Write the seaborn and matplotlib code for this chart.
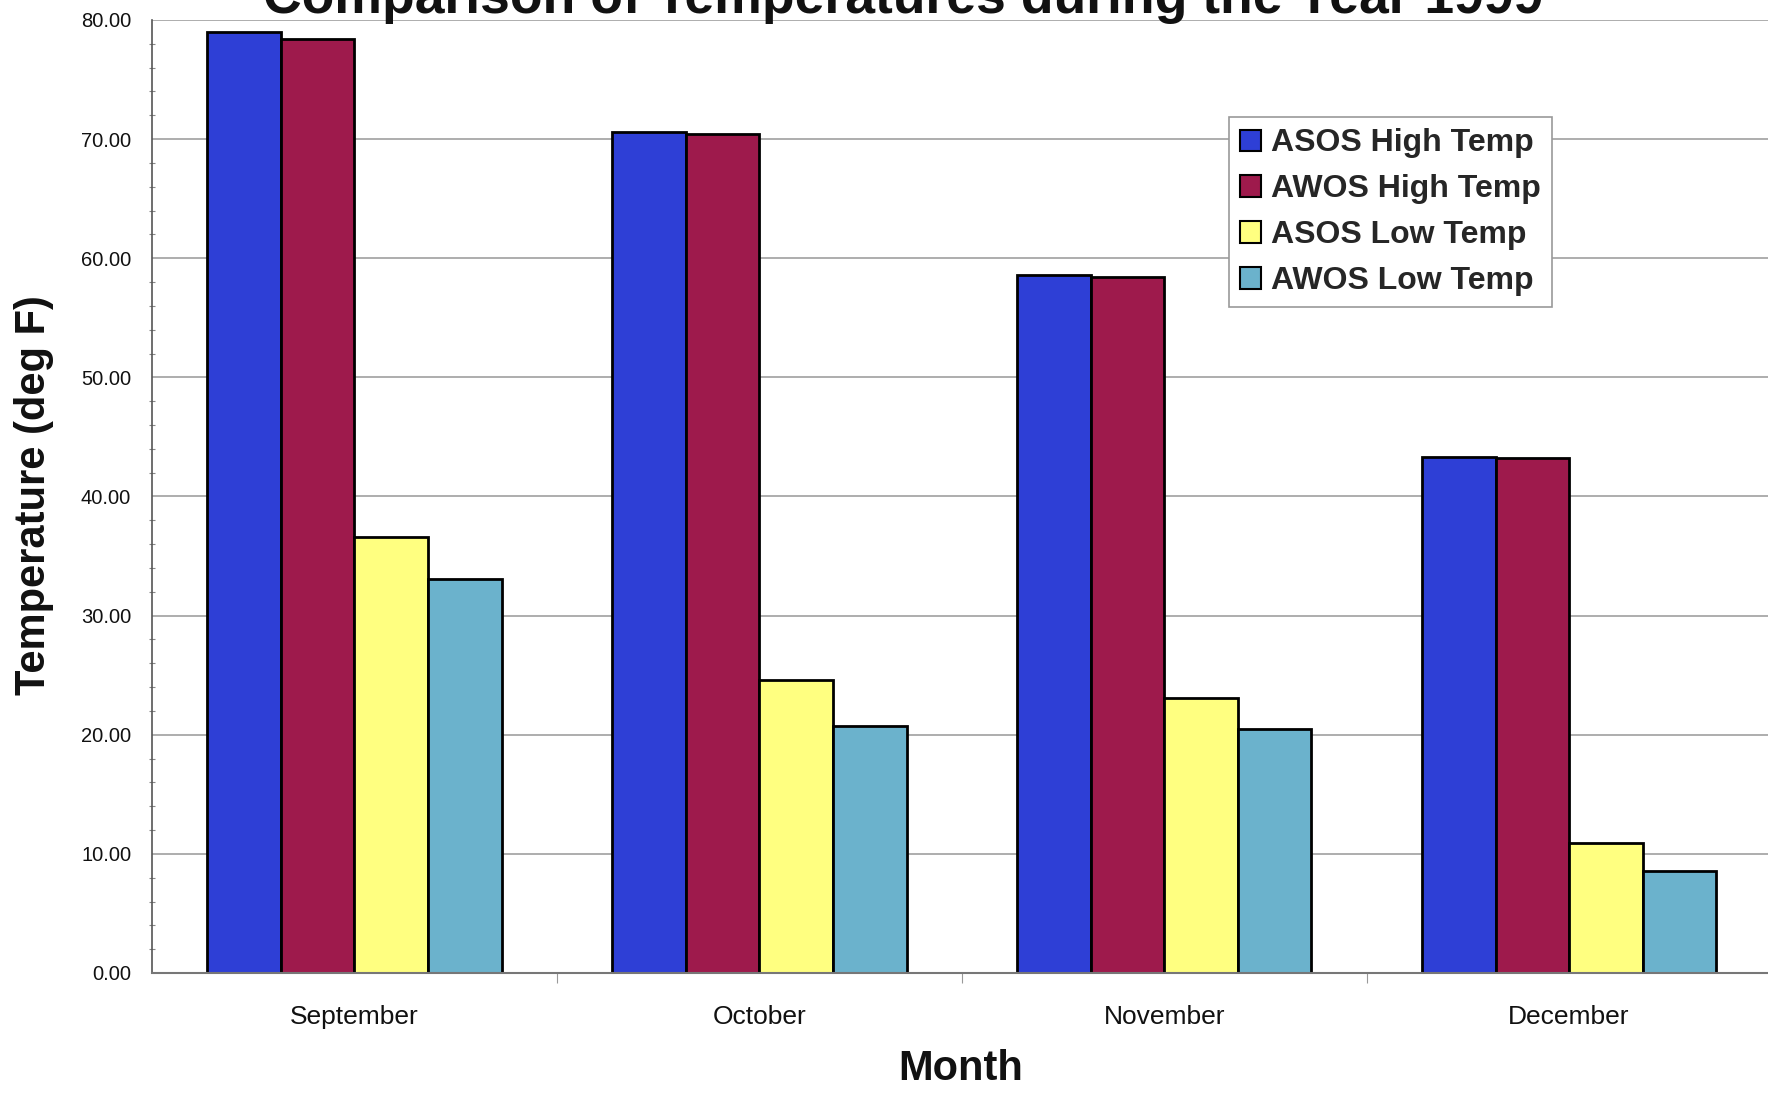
import matplotlib
matplotlib.use("Agg")
import matplotlib.pyplot as plt
import seaborn as sns
import pandas as pd
import numpy as np
from matplotlib.ticker import MultipleLocator, FixedLocator, NullFormatter

months = ["September", "October", "November", "December"]
series = ["ASOS High Temp", "AWOS High Temp", "ASOS Low Temp", "AWOS Low Temp"]
asos_high = [79.0, 70.6, 58.6, 43.3]
awos_high = [78.4, 70.4, 58.4, 43.2]
asos_low = [36.6, 24.6, 23.1, 10.9]
awos_low = [33.1, 20.7, 20.5, 8.6]
colors = ["#2E3FD6", "#9E1A4C", "#FFFF80", "#6BB2CC"]
yticks = [0, 10, 20, 30, 40, 50, 60, 70, 80]

rows = []
for name, vals in zip(series, [asos_high, awos_high, asos_low, awos_low]):
    for m, v in zip(months, vals):
        rows.append({"Month": m, "Series": name, "Temp": v})
df = pd.DataFrame(rows)

sns.set_theme(style="white")
plt.rcParams["font.family"] = ["Liberation Sans", "DejaVu Sans"]

fig = plt.figure(figsize=(17.68, 10.93), dpi=100)
ax = fig.add_axes([152/1768, 1 - 973/1093, 1 - 152/1768 + 0.002, (973 - 20)/1093])

sns.barplot(data=df, x="Month", y="Temp", hue="Series", order=months,
            hue_order=series, palette=colors, width=0.727, gap=0,
            edgecolor="black", linewidth=2, saturation=1, ax=ax, legend=True)

ax.set_ylim(0, 80)
ax.set_xlim(-0.5, 3.5)
ax.set_yticks(yticks)
ax.set_yticklabels([f"{t:.2f}" for t in yticks])
ax.yaxis.set_minor_locator(MultipleLocator(2))
ax.grid(axis="y", color="#a0a0a0", linewidth=1.2)
ax.set_axisbelow(True)
ax.xaxis.set_minor_locator(FixedLocator([0.5, 1.5, 2.5]))
ax.xaxis.set_minor_formatter(NullFormatter())

ax.tick_params(axis="y", which="major", length=6, width=1, color="#555555",
               direction="inout", labelsize=14.5, pad=12, labelcolor="#111111")
ax.tick_params(axis="y", which="minor", length=5, width=0.8, color="#888888",
               direction="inout", left=True)
ax.tick_params(axis="x", which="major", length=0, labelsize=19, pad=23,
               labelcolor="#111111")
ax.tick_params(axis="x", which="minor", length=7, width=0.8, color="#999999",
               direction="out", bottom=True)

for s in ["top", "right"]:
    ax.spines[s].set_visible(False)
ax.spines["left"].set_color("#555555")
ax.spines["left"].set_linewidth(1.2)
ax.spines["bottom"].set_color("#777777")
ax.spines["bottom"].set_linewidth(1.5)

ax.set_xlabel("")
ax.set_ylabel("")
fig.text(961/1768, 1 - 1069/1093, "Month", ha="center", va="center",
         fontsize=30, fontweight="bold", color="#111111")
fig.text(34/1768, 1 - 495/1093, "Temperature (deg F)", ha="center", va="center",
         rotation=90, fontsize=30, fontweight="bold", color="#111111")
fig.text(903/1768, 1 - 13.5/1093, "Comparison of Temperatures during the Year 1999",
         ha="center", va="baseline", fontsize=38.5, fontweight="bold", color="#111111")

handles, labels = ax.get_legend_handles_labels()
leg = ax.legend(handles, labels, loc="upper left", bbox_to_anchor=(0.665, 0.898),
                borderaxespad=0, frameon=True, fancybox=False, framealpha=1,
                edgecolor="#999999", prop={"weight": "bold", "size": 23},
                handlelength=0.65, handleheight=0.65, handletextpad=0.3,
                labelspacing=0.5, borderpad=0.35)
leg.get_frame().set_linewidth(1.2)
for h in leg.legend_handles:
    h.set_edgecolor("black")
    h.set_linewidth(1.5)

fig.savefig("out.png", dpi=100)
